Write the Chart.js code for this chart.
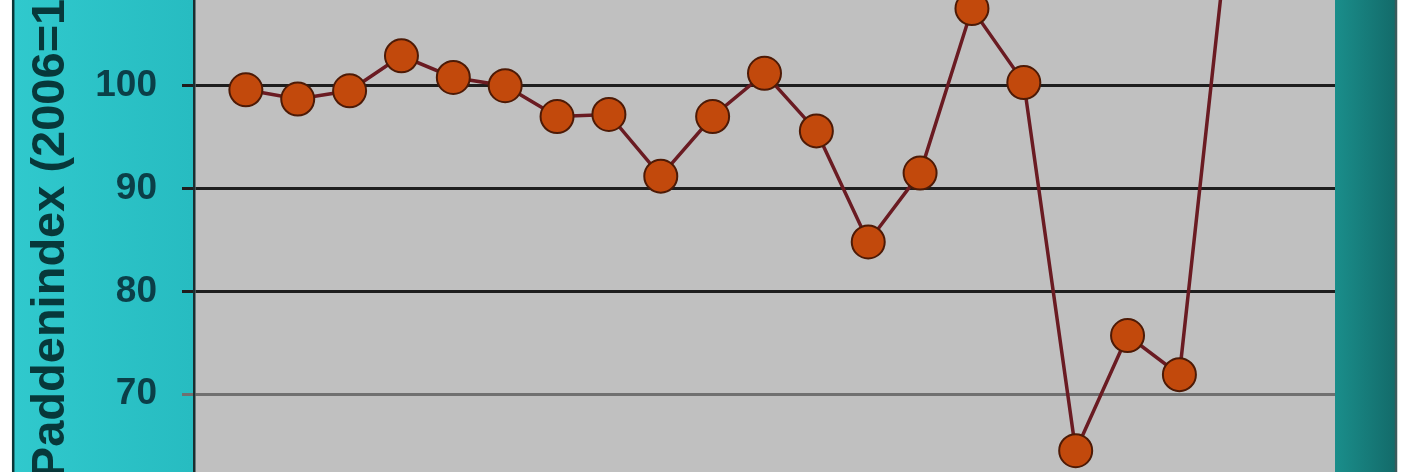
<!DOCTYPE html>
<html>
<head>
<meta charset="utf-8">
<script src="https://cdn.jsdelivr.net/npm/chart.js@4.4.1/dist/chart.umd.min.js"></script>
<style>
  html, body { margin: 0; padding: 0; background: #ffffff; overflow: hidden; width: 1416px; height: 472px; }
  #wrap { position: absolute; left: 0; top: -180.5px; width: 1416px; height: 750px; }
</style>
</head>
<body>
<div id="wrap"><canvas id="c"></canvas></div>
<script>
// ---- data ----
const years = [2001, 2002, 2003, 2004, 2005, 2006, 2007, 2008, 2009, 2010,
               2011, 2012, 2013, 2014, 2015, 2016, 2017, 2018, 2019, 2020];
const paddenIndex = [99.6, 98.7, 99.5, 102.9, 100.8, 100.0, 97.0, 97.2, 91.2, 97.0,
                     101.2, 95.6, 84.8, 91.5, 107.5, 100.3, 64.5, 75.7, 71.9, 118.0];
const yTickValues = [60, 70, 80, 90, 100, 110, 120];
const yTitle = 'Paddenindex (2006=100)';

const FONT = 'Liberation Sans, Arial, sans-serif';

const bgPlugin = {
  id: 'bgPlugin',
  beforeDraw(chart) {
    const { ctx, width, height, chartArea } = chart;
    ctx.save();
    ctx.fillStyle = '#ffffff';
    ctx.fillRect(0, 0, width, height);
    const x0 = 12, x1 = 1397;
    const g = ctx.createLinearGradient(x0, 0, x1, 0);
    g.addColorStop(0, '#30c9cd');
    g.addColorStop(0.13, '#27bcc1');
    g.addColorStop(0.955, '#1a8e8b');
    g.addColorStop(1, '#136a69');
    ctx.fillStyle = g;
    ctx.fillRect(x0, 0, x1 - x0, height);
    ctx.lineWidth = 2.5;
    ctx.strokeStyle = '#0b3536';
    ctx.beginPath(); ctx.moveTo(13.2, 0); ctx.lineTo(13.2, height); ctx.stroke();
    ctx.strokeStyle = '#3a5a5b';
    ctx.beginPath(); ctx.moveTo(1396, 0); ctx.lineTo(1396, height); ctx.stroke();
    ctx.fillStyle = '#c0c0c0';
    ctx.fillRect(chartArea.left, chartArea.top, chartArea.right - chartArea.left, chartArea.bottom - chartArea.top);
    ctx.restore();
  },
  afterDraw(chart) {
    // vertical axis title (the original chart places it slightly below the plot centre)
    const { ctx, chartArea } = chart;
    const cy = (chartArea.top + chartArea.bottom) / 2 + 16;
    ctx.save();
    ctx.translate(51, cy);
    ctx.rotate(-Math.PI / 2);
    ctx.font = 'bold 47px ' + FONT;
    ctx.fillStyle = '#07383a';
    ctx.textAlign = 'center';
    ctx.textBaseline = 'middle';
    ctx.fillText(yTitle, 0, 0);
    ctx.restore();
  }
};

new Chart(document.getElementById('c'), {
  type: 'line',
  data: {
    datasets: [{
      label: yTitle,
      data: years.map((y, i) => ({ x: y, y: paddenIndex[i] })),
      borderColor: '#6a1b22',
      borderWidth: 3.5,
      tension: 0,
      pointRadius: 16.5,
      pointBackgroundColor: '#c2490c',
      pointBorderColor: '#4d1a06',
      pointBorderWidth: 2
    }]
  },
  options: {
    responsive: true,
    maintainAspectRatio: false,
    animation: false,
    layout: { padding: { left: 14, right: 81, top: 60, bottom: 73 } },
    plugins: { legend: { display: false }, tooltip: { enabled: false } },
    scales: {
      x: {
        type: 'linear',
        min: years[0] - 1,
        max: years[0] + 21,
        display: false
      },
      y: {
        min: yTickValues[0],
        max: yTickValues[yTickValues.length - 1],
        afterBuildTicks: (scale) => { scale.ticks = yTickValues.map(v => ({ value: v })); },
        afterFit: (scale) => { scale.width = 180; },
        ticks: {
          padding: 25,
          color: '#0b3f48',
          font: { family: FONT, size: 37, weight: 'bold' }
        },
        grid: {
          color: (ctx) => (ctx.tick && ctx.tick.value === 70 ? '#707070' : '#1e1e1e'),
          lineWidth: 3,
          tickLength: 12,
          drawTicks: true
        },
        border: { display: true, color: '#1a2e30', width: 2.5 },
        title: { display: false }
      }
    }
  },
  plugins: [bgPlugin]
});
</script>
</body>
</html>
